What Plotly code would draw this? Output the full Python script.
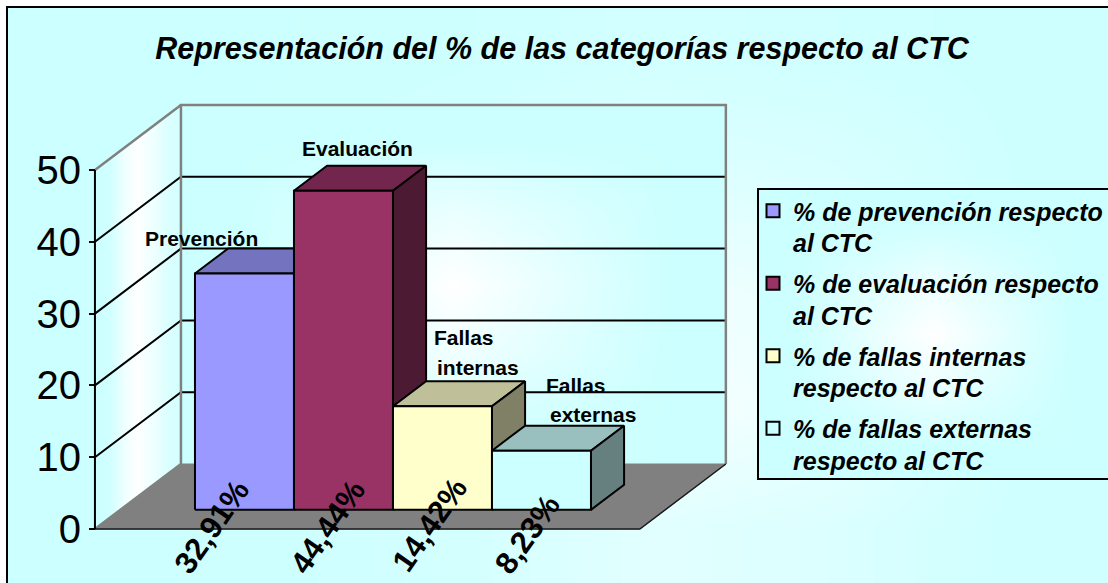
import plotly.graph_objects as go

# ---- data ----
categories = ["Prevención", "Evaluación", "Fallas internas", "Fallas externas"]
values = [32.91, 44.44, 14.42, 8.23]
value_labels = ["32,91%", "44,44%", "14,42%", "8,23%"]
legend_first = ["% de prevención respecto", "% de evaluación respecto", "% de fallas internas", "% de fallas externas"]
legend_second = ["al CTC", "al CTC", "respecto al CTC", "respecto al CTC"]
front_colors = ["#9999FF", "#993366", "#FFFFCC", "#CCFFFF"]
top_colors = ["#7373BF", "#73264D", "#BFBF99", "#99BFBF"]
side_colors = ["#4D4D80", "#4D1A33", "#808066", "#668080"]
y_ticks = [0, 10, 20, 30, 40, 50]

W, H = 1108, 583
X0, XS = 169.6, 99.0     # pixel of category 0, pixels per category
Y0, YS = 529.0, 7.18     # pixel of value 0, pixels per value
DX, DY = 86 / XS, 65 / YS  # full depth of the box in axis units
D1, D2 = 0.295, 0.68     # bar front and back depth
XMIN, XMAX = -0.754, 4.75
YMAX = 50
FONT = "Liberation Sans, Arial, sans-serif"


def px2x(p):
    return (p - X0) / XS


def px2y(q):
    return (Y0 - q) / YS


def P(x, v, d=0.0):
    return x + d * DX, v + d * DY


def poly(pts, fill, line="#000000", lw=2, **kw):
    xs = [p[0] for p in pts] + [pts[0][0]]
    ys = [p[1] for p in pts] + [pts[0][1]]
    return go.Scatter(x=xs, y=ys, mode="lines", fill="toself", fillcolor=fill,
                      line=dict(color=line, width=lw), showlegend=False, hoverinfo="skip", **kw)


def seg(pts, color, lw=2):
    return go.Scatter(x=[p[0] for p in pts], y=[p[1] for p in pts], mode="lines",
                      line=dict(color=color, width=lw), showlegend=False, hoverinfo="skip")


def glow(x1, x2, y1, y2, cols, rows):
    """Light-cyan to white gradient patch filling a pixel box exactly (cell edges given)."""
    nx, ny = len(cols), len(rows)
    xs = [px2x(x1 + (x2 - x1) * i / nx) for i in range(nx + 1)]
    ys = [px2y(y1 + (y2 - y1) * j / ny) for j in range(ny + 1)]
    z = [[c * r for c in cols] for r in rows]
    return go.Heatmap(x=xs, y=ys, z=z, zmin=0, zmax=1, zsmooth="best", showscale=False, hoverinfo="skip",
                      colorscale=[[0, "#CCFFFF"], [1, "#FFFFFF"]])


fig = go.Figure()

# chart area, back wall and legend gradients
fig.add_trace(glow(7, 1108, 7, 583, [0, 0.05, 0.3, 0.85, 0.6, 0.1], [0.15, 0.45, 0.9, 1, 0.5]))
fig.add_trace(glow(181, 726, 105, 464, [0, 0.5, 1, 0.5, 0], [0, 0.6, 1, 0.7, 0.1]))
fig.add_trace(glow(758, 1108, 189, 479, [0, 0.5, 1, 0.5, 0], [0, 0.6, 1, 0.6, 0]))

# side wall strips
N = 40
wall = [0.0, 0.1, 0.7, 1.0, 0.7, 0.3, 0.2]
for i in range(N):
    a, b = i / N, (i + 1) / N
    t = a * (len(wall) - 1)
    k = min(int(t), len(wall) - 2)
    g = wall[k] + (wall[k + 1] - wall[k]) * (t - k)
    col = "rgb(%d,255,255)" % (204 + 51 * g)
    fig.add_trace(poly([P(XMIN, 0, a), P(XMIN, 50, a), P(XMIN, 50, b), P(XMIN, 0, b)], col, line=col, lw=0.5))

# floor
fig.add_trace(poly([P(XMIN, 0), P(XMAX, 0), P(XMAX, 0, 1), P(XMIN, 0, 1)], "#808080", line="#808080", lw=1))

# gridlines
for v in y_ticks[1:-1]:
    fig.add_trace(seg([P(XMIN, v), P(XMIN, v, 1), P(XMAX, v, 1)], "#000000", 2))

# walls outline
fig.add_trace(seg([P(XMIN, 0), P(XMIN, 0, 1), P(XMIN, YMAX, 1), P(XMAX, YMAX, 1), P(XMAX, 0, 1)], "#808080", 2.5))
fig.add_trace(seg([P(XMIN, YMAX), P(XMIN, YMAX, 1)], "#808080", 2.5))
fig.add_trace(seg([P(XMIN, 0), P(XMAX, 0), P(XMAX, 0, 1)], "#1A1A1A", 1.5))

# bars
for i, v in enumerate(values):
    a, b = float(i), float(i + 1)
    fig.add_trace(poly([P(a, v, D1), P(b, v, D1), P(b, v, D2), P(a, v, D2)], top_colors[i]))
    fig.add_trace(poly([P(b, 0, D1), P(b, v, D1), P(b, v, D2), P(b, 0, D2)], side_colors[i]))
    fig.add_trace(poly([P(a, 0, D1), P(b, 0, D1), P(b, v, D1), P(a, v, D1)], front_colors[i]))

# value axis line
fig.add_trace(seg([(XMIN, 0), (XMIN, YMAX)], "#000000", 2))

# legend entries (first text line; second line is placed under it)
for i, name in enumerate(legend_first):
    fig.add_trace(go.Scatter(x=[None], y=[None], mode="markers", name=name, legendgroup=str(i),
                             marker=dict(symbol="square", size=13, color=front_colors[i],
                                         line=dict(color="#000000", width=2))))

ann = []
# rotated value labels
for lab, (cx, cy) in zip(value_labels, [(211, 527), (327, 527), (429, 525), (527, 534)]):
    ann.append(dict(x=px2x(cx), y=px2y(cy), text=lab, textangle=-55, showarrow=False, xref="x", yref="y",
                    font=dict(family=FONT, size=31, color="#000000", weight="bold")))
# category labels above the bars
for lab, (cx, cy) in zip(["Prevención", "Evaluación", "Fallas", "internas", "Fallas", "externas"],
                         [(201, 238), (357, 148), (464, 337), (478, 367), (576, 385), (593, 414)]):
    ann.append(dict(x=px2x(cx), y=px2y(cy), text=lab, showarrow=False, xref="x", yref="y",
                    font=dict(family=FONT, size=21, color="#000000", weight="bold")))
# legend second lines
for lab, cy in zip(legend_second, [243, 316, 388, 461]):
    ann.append(dict(x=px2x(791), y=px2y(cy), text=lab, showarrow=False, xref="x", yref="y", xanchor="left",
                    font=dict(family=FONT, size=25, color="#000000", weight="bold", style="italic")))

fig.update_layout(
    width=W, height=H, autosize=False, margin=dict(l=0, r=0, t=0, b=0, pad=0, autoexpand=False),
    paper_bgcolor="#FFFFFF", plot_bgcolor="rgba(0,0,0,0)", hovermode=False,
    title=dict(text="<b><i>Representación del % de las categorías respecto al CTC</i></b>",
               x=562 / W, xanchor="center", y=1 - 48 / H, yanchor="middle",
               font=dict(family=FONT, size=30.5, color="#000000")),
    xaxis=dict(range=[px2x(0), px2x(W)], visible=False, fixedrange=True),
    yaxis=dict(range=[px2y(H), px2y(0)], anchor="free", position=95 / W, side="left",
               tickmode="array", tickvals=y_ticks, ticks="outside", ticklen=6, tickwidth=2, tickcolor="#000000",
               showgrid=False, zeroline=False, showline=False, fixedrange=True,
               tickfont=dict(family=FONT, size=40, color="#000000")),
    legend=dict(x=753 / W, xanchor="left", y=1 - 188 / H, yanchor="top", bgcolor="rgba(0,0,0,0)",
                traceorder="grouped", tracegroupgap=37, borderwidth=0,
                font=dict(family=FONT, size=25, color="#000000", weight="bold", style="italic")),
    annotations=ann,
    shapes=[
        dict(type="rect", xref="paper", yref="paper", x0=7 / W, x1=1.02, y0=-0.02, y1=1 - 7 / H,
             line=dict(color="#000000", width=2), fillcolor="rgba(0,0,0,0)"),
        dict(type="rect", xref="paper", yref="paper", x0=758 / W, x1=1.02, y0=1 - 479 / H, y1=1 - 189 / H,
             line=dict(color="#000000", width=2), fillcolor="rgba(0,0,0,0)"),
    ],
)

fig.write_html("out.html", config=dict(displayModeBar=False),
               post_script="document.body.style.margin='0';document.body.style.overflow='hidden';")
